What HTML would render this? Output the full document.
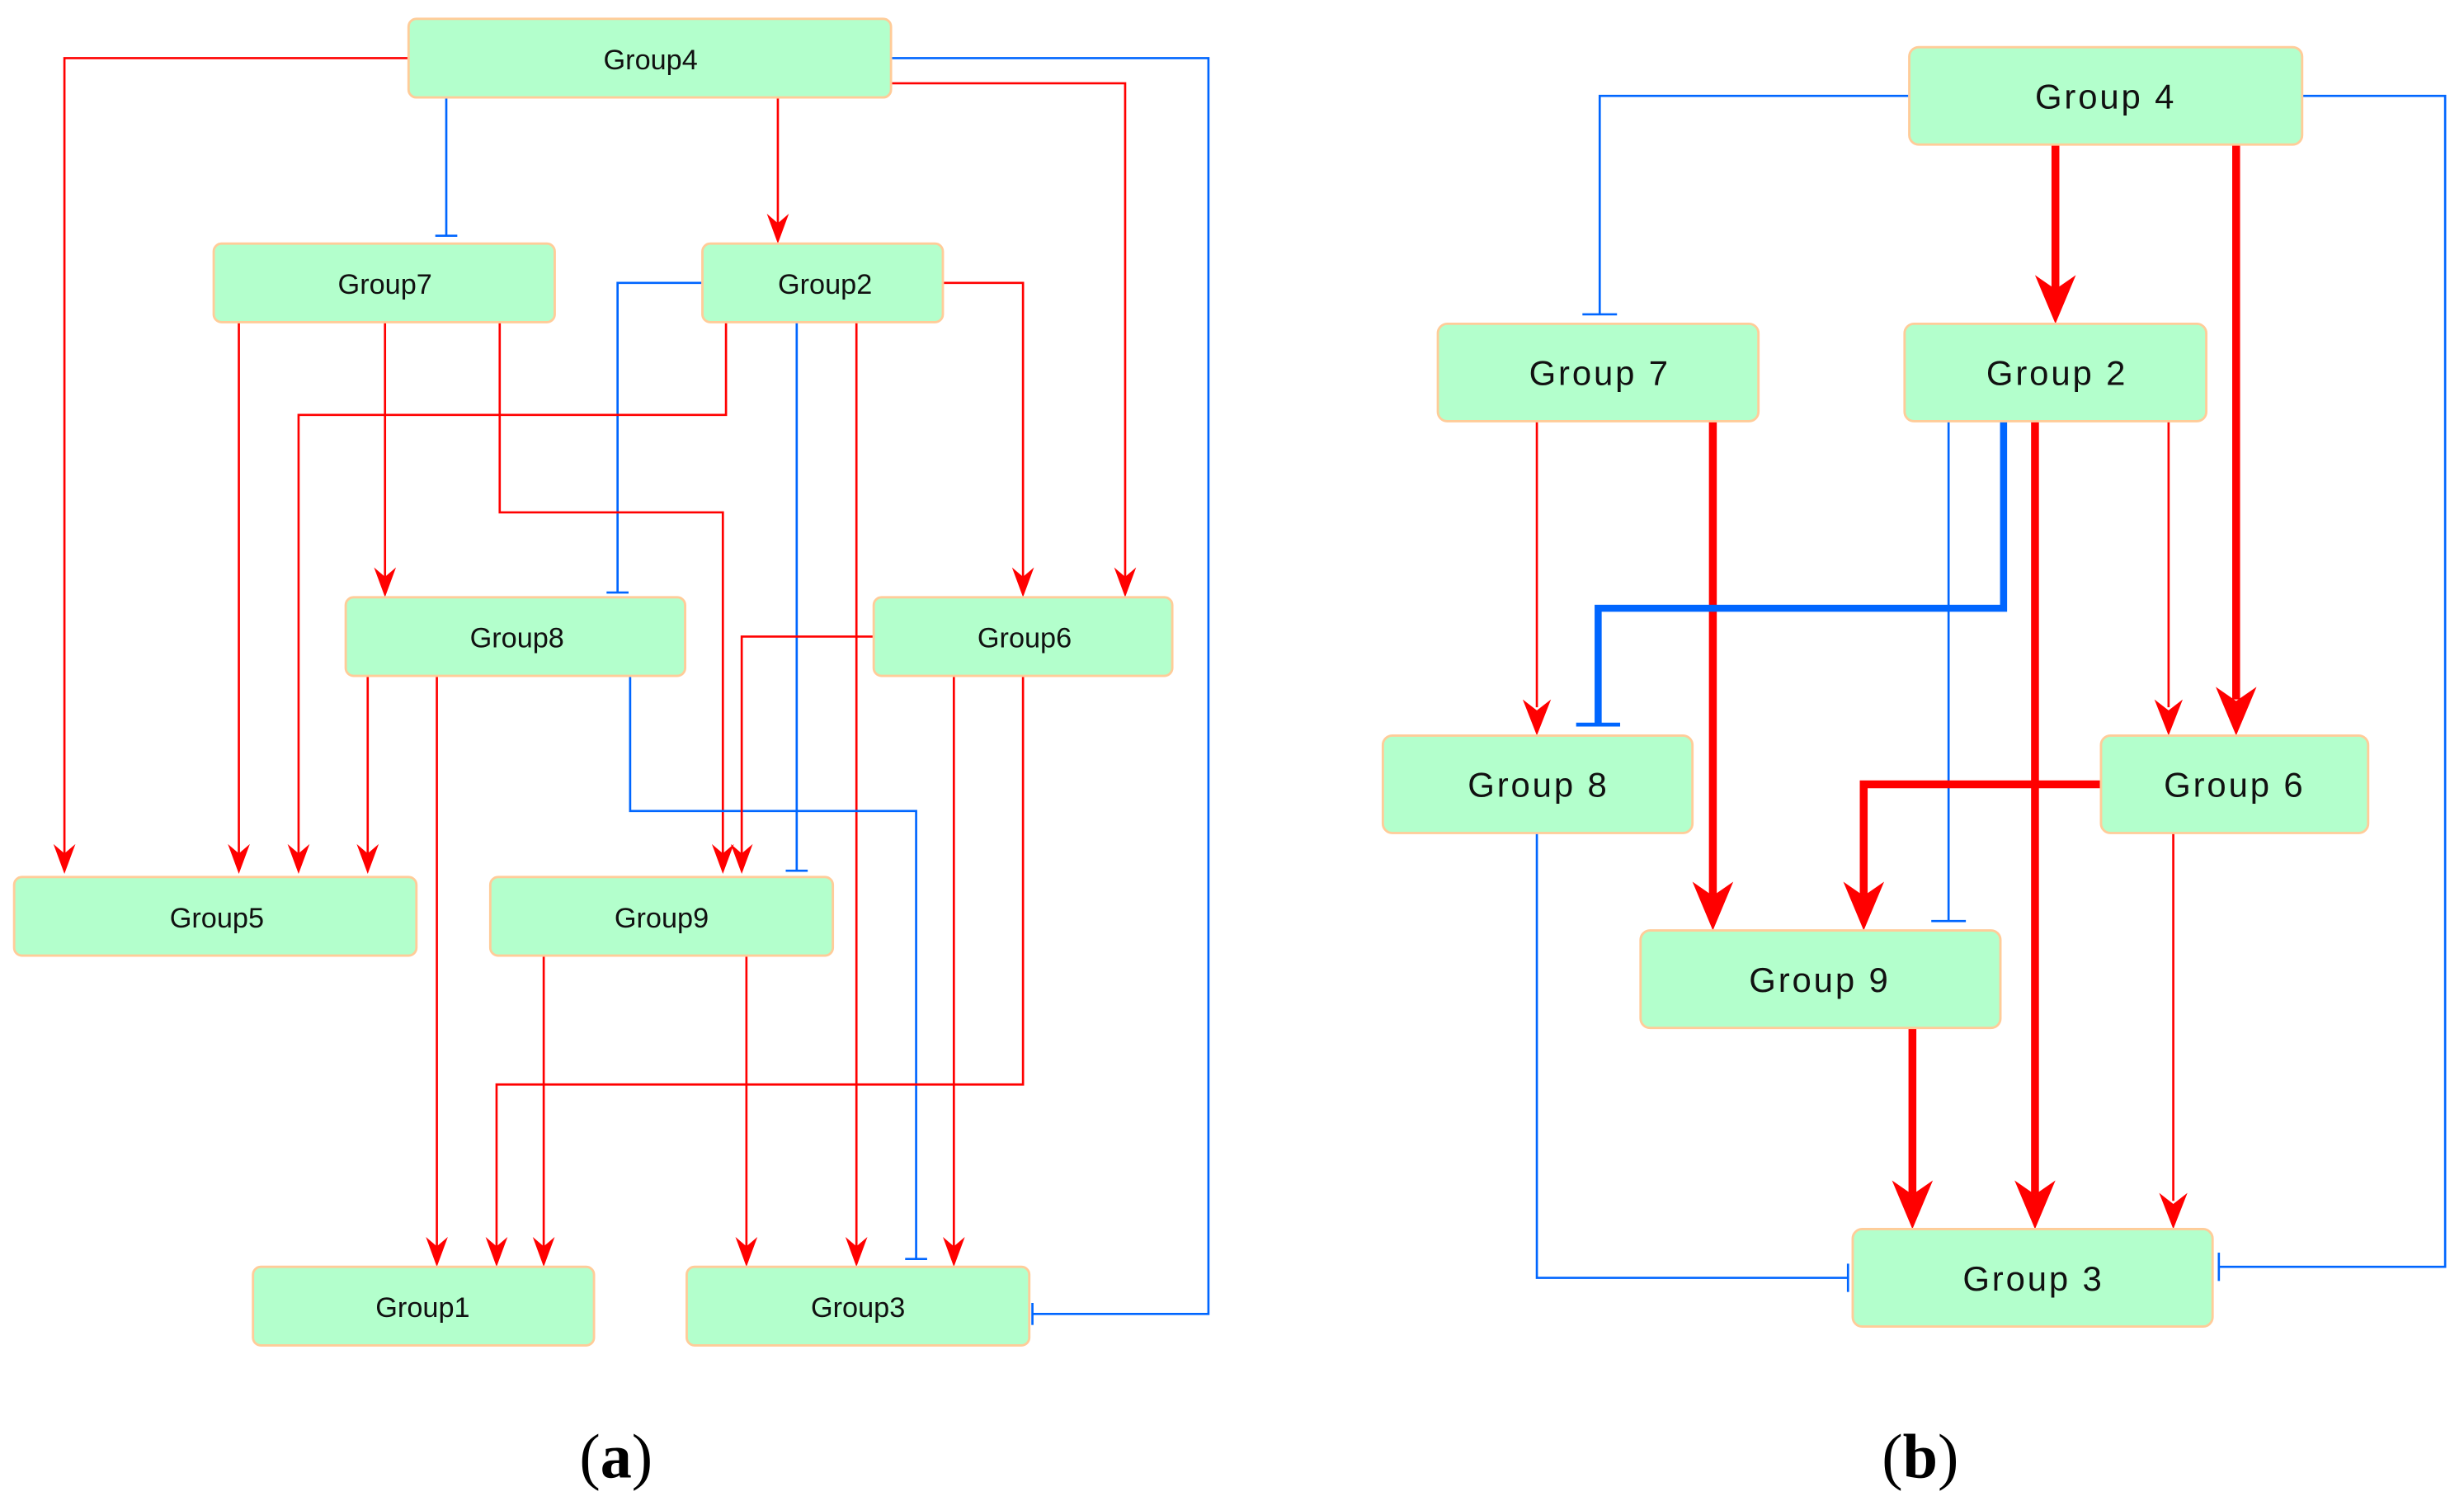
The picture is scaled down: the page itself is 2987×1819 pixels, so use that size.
<!DOCTYPE html>
<html><head><meta charset="utf-8"><style>
html,body{margin:0;padding:0;background:#fff;}
svg{display:block;}
.n{fill:#b3ffcc;stroke:#ffcc99;stroke-width:1.5;}
.ta{font-family:"Liberation Sans Narrow","Liberation Sans",sans-serif;font-size:18px;fill:#111;text-anchor:middle;}
.tb{font-family:"Liberation Sans",sans-serif;font-size:22px;fill:#111;text-anchor:middle;letter-spacing:1.5px;}
.r{fill:none;stroke:#ff0000;stroke-width:1.4;}
.R{fill:none;stroke:#ff0000;stroke-width:5;}
.b{fill:none;stroke:#0066ff;stroke-width:1.4;}
.B{fill:none;stroke:#0066ff;stroke-width:4.5;}
.ah{fill:#ff0000;}
.lab{font-family:"Liberation Serif",serif;font-size:40px;fill:#000;text-anchor:middle;}
</style></head><body>
<svg width="2987" height="1819" viewBox="0 0 1568 955" preserveAspectRatio="none" xmlns="http://www.w3.org/2000/svg">
<!-- ===== Panel a edges ===== -->
<polyline class="r" points="260,37 41,37 41,545"/>
<polyline class="b" points="567,37 769,37 769,836 657,836"/>
<line class="b" x1="657" y1="829" x2="657" y2="843"/>
<polyline class="r" points="567,53 716,53 716,368"/>
<polyline class="b" points="284,62 284,150"/>
<line class="b" x1="277" y1="150" x2="291" y2="150"/>
<polyline class="r" points="495,62 495,143"/>
<polyline class="b" points="447,180 393,180 393,377"/>
<line class="b" x1="386" y1="377" x2="400" y2="377"/>
<polyline class="r" points="600,180 651,180 651,368"/>
<polyline class="r" points="462,205 462,264 190,264 190,545"/>
<polyline class="b" points="507,205 507,554"/>
<line class="b" x1="500" y1="554" x2="514" y2="554"/>
<polyline class="r" points="545,205 545,794"/>
<polyline class="r" points="152,205 152,545"/>
<polyline class="r" points="245,205 245,368"/>
<polyline class="r" points="318,205 318,326 460,326 460,545"/>
<polyline class="r" points="234,430 234,545"/>
<polyline class="r" points="278,430 278,794"/>
<polyline class="b" points="401,430 401,516 583,516 583,801"/>
<line class="b" x1="576" y1="801" x2="590" y2="801"/>
<polyline class="r" points="556,405 472,405 472,545"/>
<polyline class="r" points="607,430 607,794"/>
<polyline class="r" points="651,430 651,690 316,690 316,794"/>
<polyline class="r" points="346,608 346,794"/>
<polyline class="r" points="475,608 475,794"/>
<!-- panel a arrowheads -->
<g class="ah">
<path d="M41,556 l-7,-19 l7,6 l7,-6z"/>
<path d="M716,380 l-7,-19 l7,6 l7,-6z"/>
<path d="M495,155 l-7,-19 l7,6 l7,-6z"/>
<path d="M651,380 l-7,-19 l7,6 l7,-6z"/>
<path d="M190,556 l-7,-19 l7,6 l7,-6z"/>
<path d="M545,806 l-7,-19 l7,6 l7,-6z"/>
<path d="M152,556 l-7,-19 l7,6 l7,-6z"/>
<path d="M245,380 l-7,-19 l7,6 l7,-6z"/>
<path d="M460,556 l-7,-19 l7,6 l7,-6z"/>
<path d="M234,556 l-7,-19 l7,6 l7,-6z"/>
<path d="M278,806 l-7,-19 l7,6 l7,-6z"/>
<path d="M472,556 l-7,-19 l7,6 l7,-6z"/>
<path d="M607,806 l-7,-19 l7,6 l7,-6z"/>
<path d="M316,806 l-7,-19 l7,6 l7,-6z"/>
<path d="M346,806 l-7,-19 l7,6 l7,-6z"/>
<path d="M475,806 l-7,-19 l7,6 l7,-6z"/>
</g>
<!-- panel a nodes -->
<rect class="n" x="260" y="12" width="307" height="50" rx="5"/><text class="ta" x="414" y="44">Group4</text>
<rect class="n" x="136" y="155" width="217" height="50" rx="5"/><text class="ta" x="245" y="187">Group7</text>
<rect class="n" x="447" y="155" width="153" height="50" rx="5"/><text class="ta" x="525" y="187">Group2</text>
<rect class="n" x="220" y="380" width="216" height="50" rx="5"/><text class="ta" x="329" y="412">Group8</text>
<rect class="n" x="556" y="380" width="190" height="50" rx="5"/><text class="ta" x="652" y="412">Group6</text>
<rect class="n" x="9" y="558" width="256" height="50" rx="5"/><text class="ta" x="138" y="590">Group5</text>
<rect class="n" x="312" y="558" width="218" height="50" rx="5"/><text class="ta" x="421" y="590">Group9</text>
<rect class="n" x="161" y="806" width="217" height="50" rx="5"/><text class="ta" x="269" y="838">Group1</text>
<rect class="n" x="437" y="806" width="218" height="50" rx="5"/><text class="ta" x="546" y="838">Group3</text>
<text class="lab" x="392" y="940">(<tspan font-weight="bold">a</tspan>)</text>

<!-- ===== Panel b edges ===== -->
<polyline class="b" points="1215,61 1018,61 1018,200"/>
<line class="b" x1="1007" y1="200" x2="1029" y2="200"/>
<polyline class="b" points="1465,61 1556,61 1556,806 1412,806"/>
<line class="b" x1="1412" y1="797" x2="1412" y2="815"/>
<polyline class="R" points="1308,92 1308,185"/>
<polyline class="R" points="1423,92 1423,445"/>
<polyline class="r" points="978,268 978,450"/>
<polyline class="R" points="1090,268 1090,570"/>
<polyline class="b" points="1240,268 1240,586"/>
<line class="b" x1="1229" y1="586" x2="1251" y2="586"/>
<polyline class="B" points="1275,268 1275,387 1017,387 1017,461"/>
<line class="B" x1="1003" y1="461" x2="1031" y2="461" style="stroke-width:2.5"/>
<polyline class="R" points="1295,268 1295,760"/>
<polyline class="r" points="1380,268 1380,450"/>
<polyline class="R" points="1337,499 1186,499 1186,570"/>
<polyline class="r" points="1383,530 1383,764"/>
<polyline class="R" points="1217,654 1217,760"/>
<polyline class="b" points="978,530 978,813 1176,813"/>
<line class="b" x1="1176" y1="804" x2="1176" y2="822"/>
<g class="ah">
<path d="M1308,206 l-13,-31 l13,9 l13,-9z"/>
<path d="M1423,468 l-13,-31 l13,9 l13,-9z"/>
<path d="M978,468 l-9,-23 l9,7 l9,-7z"/>
<path d="M1090,592 l-13,-31 l13,9 l13,-9z"/>
<path d="M1295,782 l-13,-31 l13,9 l13,-9z"/>
<path d="M1380,468 l-9,-23 l9,7 l9,-7z"/>
<path d="M1186,592 l-13,-31 l13,9 l13,-9z"/>
<path d="M1383,782 l-9,-23 l9,7 l9,-7z"/>
<path d="M1217,782 l-13,-31 l13,9 l13,-9z"/>
</g>
<rect class="n" x="1215" y="30" width="250" height="62" rx="6"/><text class="tb" x="1340" y="69">Group 4</text>
<rect class="n" x="915" y="206" width="204" height="62" rx="6"/><text class="tb" x="1018" y="245">Group 7</text>
<rect class="n" x="1212" y="206" width="192" height="62" rx="6"/><text class="tb" x="1309" y="245">Group 2</text>
<rect class="n" x="880" y="468" width="197" height="62" rx="6"/><text class="tb" x="979" y="507">Group 8</text>
<rect class="n" x="1337" y="468" width="170" height="62" rx="6"/><text class="tb" x="1422" y="507">Group 6</text>
<rect class="n" x="1044" y="592" width="229" height="62" rx="6"/><text class="tb" x="1158" y="631">Group 9</text>
<rect class="n" x="1179" y="782" width="229" height="62" rx="6"/><text class="tb" x="1294" y="821">Group 3</text>
<text class="lab" x="1222" y="940">(<tspan font-weight="bold">b</tspan>)</text>
</svg>
</body></html>
